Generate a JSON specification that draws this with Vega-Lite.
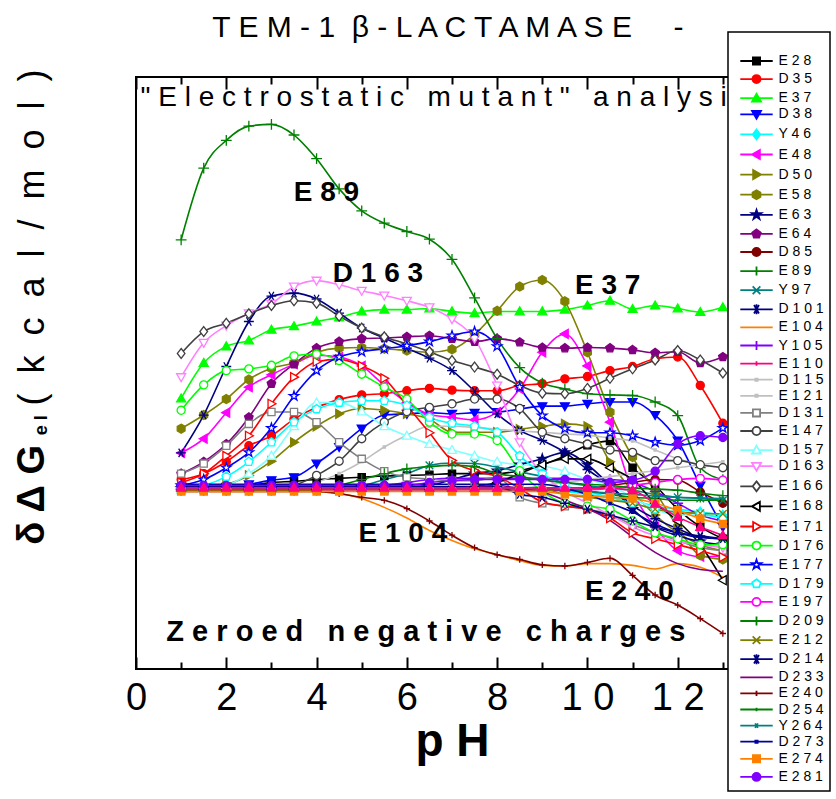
{
"$schema": "https://vega.github.io/schema/vega-lite/v6.json",
"width": 632, "height": 592,
"autosize": {"type": "none"},
"padding": {"left": 136, "top": 77, "right": 68, "bottom": 130},
"background": "white",
"data": {"values": [
{"m":"E28","x":1,"y":0.05},{"m":"E28","x":1.5,"y":0.06},{"m":"E28","x":2,"y":0.08},{"m":"E28","x":2.5,"y":0.1},{"m":"E28","x":3,"y":0.15},{"m":"E28","x":3.5,"y":0.17},{"m":"E28","x":4,"y":0.2},{"m":"E28","x":4.5,"y":0.22},{"m":"E28","x":5,"y":0.24},{"m":"E28","x":5.5,"y":0.26},{"m":"E28","x":6,"y":0.27},{"m":"E28","x":6.5,"y":0.28},{"m":"E28","x":7,"y":0.3},{"m":"E28","x":7.5,"y":0.3},{"m":"E28","x":8,"y":0.3},{"m":"E28","x":8.5,"y":0.35},{"m":"E28","x":9,"y":0.45},{"m":"E28","x":9.5,"y":0.6},{"m":"E28","x":10,"y":0.78},{"m":"E28","x":10.5,"y":0.85},{"m":"E28","x":11,"y":0.4},{"m":"E28","x":11.5,"y":0.1},{"m":"E28","x":12,"y":-0.3},{"m":"E28","x":12.5,"y":-0.6},{"m":"E28","x":13,"y":-0.8},
{"m":"D35","x":1,"y":0.2},{"m":"D35","x":1.5,"y":0.3},{"m":"D35","x":2,"y":0.5},{"m":"D35","x":2.5,"y":0.77},{"m":"D35","x":3,"y":0.94},{"m":"D35","x":3.5,"y":1.22},{"m":"D35","x":4,"y":1.42},{"m":"D35","x":4.5,"y":1.55},{"m":"D35","x":5,"y":1.63},{"m":"D35","x":5.5,"y":1.65},{"m":"D35","x":6,"y":1.7},{"m":"D35","x":6.5,"y":1.74},{"m":"D35","x":7,"y":1.71},{"m":"D35","x":7.5,"y":1.7},{"m":"D35","x":8,"y":1.7},{"m":"D35","x":8.5,"y":1.79},{"m":"D35","x":9,"y":1.82},{"m":"D35","x":9.5,"y":1.9},{"m":"D35","x":10,"y":1.94},{"m":"D35","x":10.5,"y":2.04},{"m":"D35","x":11,"y":2.11},{"m":"D35","x":11.5,"y":2.24},{"m":"D35","x":12,"y":2.27},{"m":"D35","x":12.5,"y":1.79},{"m":"D35","x":13,"y":1.15},
{"m":"E37","x":1,"y":1.57},{"m":"E37","x":1.5,"y":2.17},{"m":"E37","x":2,"y":2.45},{"m":"E37","x":2.5,"y":2.55},{"m":"E37","x":3,"y":2.73},{"m":"E37","x":3.5,"y":2.79},{"m":"E37","x":4,"y":2.87},{"m":"E37","x":4.5,"y":2.94},{"m":"E37","x":5,"y":3.04},{"m":"E37","x":5.5,"y":3.07},{"m":"E37","x":6,"y":3.07},{"m":"E37","x":6.5,"y":3.09},{"m":"E37","x":7,"y":3.04},{"m":"E37","x":7.5,"y":3.01},{"m":"E37","x":8,"y":3.04},{"m":"E37","x":8.5,"y":3.04},{"m":"E37","x":9,"y":3.04},{"m":"E37","x":9.5,"y":3.07},{"m":"E37","x":10,"y":3.14},{"m":"E37","x":10.5,"y":3.22},{"m":"E37","x":11,"y":3.08},{"m":"E37","x":11.5,"y":3.14},{"m":"E37","x":12,"y":3.09},{"m":"E37","x":12.5,"y":3.03},{"m":"E37","x":13,"y":3.11},
{"m":"D38","x":1,"y":0.05},{"m":"D38","x":1.5,"y":0.06},{"m":"D38","x":2,"y":0.08},{"m":"D38","x":2.5,"y":0.12},{"m":"D38","x":3,"y":0.19},{"m":"D38","x":3.5,"y":0.24},{"m":"D38","x":4,"y":0.47},{"m":"D38","x":4.5,"y":0.75},{"m":"D38","x":5,"y":1.06},{"m":"D38","x":5.5,"y":1.29},{"m":"D38","x":6,"y":1.31},{"m":"D38","x":6.5,"y":1.33},{"m":"D38","x":7,"y":1.31},{"m":"D38","x":7.5,"y":1.33},{"m":"D38","x":8,"y":1.34},{"m":"D38","x":8.5,"y":1.39},{"m":"D38","x":9,"y":1.44},{"m":"D38","x":9.5,"y":1.44},{"m":"D38","x":10,"y":1.48},{"m":"D38","x":10.5,"y":1.51},{"m":"D38","x":11,"y":1.51},{"m":"D38","x":11.5,"y":1.29},{"m":"D38","x":12,"y":0.86},{"m":"D38","x":12.5,"y":0.1},{"m":"D38","x":13,"y":-0.6},
{"m":"Y46","x":1,"y":0.02},{"m":"Y46","x":1.5,"y":0.02},{"m":"Y46","x":2,"y":0.02},{"m":"Y46","x":2.5,"y":0.02},{"m":"Y46","x":3,"y":0.03},{"m":"Y46","x":3.5,"y":0.03},{"m":"Y46","x":4,"y":0.03},{"m":"Y46","x":4.5,"y":0.03},{"m":"Y46","x":5,"y":0.03},{"m":"Y46","x":5.5,"y":0.03},{"m":"Y46","x":6,"y":0.03},{"m":"Y46","x":6.5,"y":0.03},{"m":"Y46","x":7,"y":0.03},{"m":"Y46","x":7.5,"y":0.03},{"m":"Y46","x":8,"y":0.03},{"m":"Y46","x":8.5,"y":0.03},{"m":"Y46","x":9,"y":0.02},{"m":"Y46","x":9.5,"y":0},{"m":"Y46","x":10,"y":-0.05},{"m":"Y46","x":10.5,"y":-0.1},{"m":"Y46","x":11,"y":-0.15},{"m":"Y46","x":11.5,"y":-0.25},{"m":"Y46","x":12,"y":-0.3},{"m":"Y46","x":12.5,"y":-0.35},{"m":"Y46","x":13,"y":-0.4},
{"m":"E48","x":1,"y":0.65},{"m":"E48","x":1.5,"y":0.89},{"m":"E48","x":2,"y":1.33},{"m":"E48","x":2.5,"y":1.76},{"m":"E48","x":3,"y":1.97},{"m":"E48","x":3.5,"y":2.15},{"m":"E48","x":4,"y":2.3},{"m":"E48","x":4.5,"y":2.27},{"m":"E48","x":5,"y":2.12},{"m":"E48","x":5.5,"y":1.79},{"m":"E48","x":6,"y":1.5},{"m":"E48","x":6.5,"y":1.3},{"m":"E48","x":7,"y":1.25},{"m":"E48","x":7.5,"y":1.21},{"m":"E48","x":8,"y":1.34},{"m":"E48","x":8.5,"y":1.73},{"m":"E48","x":9,"y":2.35},{"m":"E48","x":9.5,"y":2.66},{"m":"E48","x":10,"y":2.12},{"m":"E48","x":10.5,"y":1.17},{"m":"E48","x":11,"y":0},{"m":"E48","x":11.5,"y":-0.6},{"m":"E48","x":12,"y":-1},{"m":"E48","x":12.5,"y":-1.1},{"m":"E48","x":13,"y":-1.1},
{"m":"D50","x":1,"y":0.05},{"m":"D50","x":1.5,"y":0.08},{"m":"D50","x":2,"y":0.12},{"m":"D50","x":2.5,"y":0.27},{"m":"D50","x":3,"y":0.51},{"m":"D50","x":3.5,"y":0.83},{"m":"D50","x":4,"y":1.1},{"m":"D50","x":4.5,"y":1.31},{"m":"D50","x":5,"y":1.4},{"m":"D50","x":5.5,"y":1.37},{"m":"D50","x":6,"y":1.31},{"m":"D50","x":6.5,"y":1.22},{"m":"D50","x":7,"y":1},{"m":"D50","x":7.5,"y":1},{"m":"D50","x":8,"y":1},{"m":"D50","x":8.5,"y":1.05},{"m":"D50","x":9,"y":1.1},{"m":"D50","x":9.5,"y":1.14},{"m":"D50","x":10,"y":1.1},{"m":"D50","x":10.5,"y":0.5},{"m":"D50","x":11,"y":0},{"m":"D50","x":11.5,"y":-0.4},{"m":"D50","x":12,"y":-0.7},{"m":"D50","x":12.5,"y":-0.9},{"m":"D50","x":13,"y":-1},
{"m":"E58","x":1,"y":1.06},{"m":"E58","x":1.5,"y":1.29},{"m":"E58","x":2,"y":1.56},{"m":"E58","x":2.5,"y":1.89},{"m":"E58","x":3,"y":2.08},{"m":"E58","x":3.5,"y":2.17},{"m":"E58","x":4,"y":2.35},{"m":"E58","x":4.5,"y":2.42},{"m":"E58","x":5,"y":2.43},{"m":"E58","x":5.5,"y":2.41},{"m":"E58","x":6,"y":2.38},{"m":"E58","x":6.5,"y":2.35},{"m":"E58","x":7,"y":2.4},{"m":"E58","x":7.5,"y":2.65},{"m":"E58","x":8,"y":3.05},{"m":"E58","x":8.5,"y":3.46},{"m":"E58","x":9,"y":3.57},{"m":"E58","x":9.5,"y":3.21},{"m":"E58","x":10,"y":2.35},{"m":"E58","x":10.5,"y":1.34},{"m":"E58","x":11,"y":0.58},{"m":"E58","x":11.5,"y":0},{"m":"E58","x":12,"y":-0.6},{"m":"E58","x":12.5,"y":-1.08},{"m":"E58","x":13,"y":-1.15},
{"m":"E63","x":1,"y":0.05},{"m":"E63","x":1.5,"y":0.05},{"m":"E63","x":2,"y":0.05},{"m":"E63","x":2.5,"y":0.05},{"m":"E63","x":3,"y":0.05},{"m":"E63","x":3.5,"y":0.05},{"m":"E63","x":4,"y":0.06},{"m":"E63","x":4.5,"y":0.06},{"m":"E63","x":5,"y":0.07},{"m":"E63","x":5.5,"y":0.07},{"m":"E63","x":6,"y":0.08},{"m":"E63","x":6.5,"y":0.1},{"m":"E63","x":7,"y":0.2},{"m":"E63","x":7.5,"y":0.3},{"m":"E63","x":8,"y":0.35},{"m":"E63","x":8.5,"y":0.45},{"m":"E63","x":9,"y":0.55},{"m":"E63","x":9.5,"y":0.66},{"m":"E63","x":10,"y":0.45},{"m":"E63","x":10.5,"y":0.1},{"m":"E63","x":11,"y":-0.3},{"m":"E63","x":11.5,"y":-0.6},{"m":"E63","x":12,"y":-0.75},{"m":"E63","x":12.5,"y":-0.85},{"m":"E63","x":13,"y":-0.9},
{"m":"E64","x":1,"y":0.3},{"m":"E64","x":1.5,"y":0.5},{"m":"E64","x":2,"y":0.8},{"m":"E64","x":2.5,"y":1.25},{"m":"E64","x":3,"y":1.82},{"m":"E64","x":3.5,"y":2.15},{"m":"E64","x":4,"y":2.42},{"m":"E64","x":4.5,"y":2.53},{"m":"E64","x":5,"y":2.58},{"m":"E64","x":5.5,"y":2.59},{"m":"E64","x":6,"y":2.61},{"m":"E64","x":6.5,"y":2.63},{"m":"E64","x":7,"y":2.58},{"m":"E64","x":7.5,"y":2.53},{"m":"E64","x":8,"y":2.58},{"m":"E64","x":8.5,"y":2.52},{"m":"E64","x":9,"y":2.43},{"m":"E64","x":9.5,"y":2.42},{"m":"E64","x":10,"y":2.43},{"m":"E64","x":10.5,"y":2.42},{"m":"E64","x":11,"y":2.39},{"m":"E64","x":11.5,"y":2.34},{"m":"E64","x":12,"y":2.36},{"m":"E64","x":12.5,"y":2.17},{"m":"E64","x":13,"y":2.27},
{"m":"D85","x":1,"y":0.02},{"m":"D85","x":1.5,"y":0.02},{"m":"D85","x":2,"y":0.02},{"m":"D85","x":2.5,"y":0.02},{"m":"D85","x":3,"y":0.02},{"m":"D85","x":3.5,"y":0.02},{"m":"D85","x":4,"y":0.02},{"m":"D85","x":4.5,"y":0.02},{"m":"D85","x":5,"y":0.02},{"m":"D85","x":5.5,"y":0.02},{"m":"D85","x":6,"y":0.02},{"m":"D85","x":6.5,"y":0.02},{"m":"D85","x":7,"y":0.02},{"m":"D85","x":7.5,"y":0.02},{"m":"D85","x":8,"y":0.02},{"m":"D85","x":8.5,"y":0.02},{"m":"D85","x":9,"y":0.02},{"m":"D85","x":9.5,"y":0.02},{"m":"D85","x":10,"y":0.05},{"m":"D85","x":10.5,"y":0.1},{"m":"D85","x":11,"y":0.15},{"m":"D85","x":11.5,"y":0.2},{"m":"D85","x":12,"y":0.19},{"m":"D85","x":12.5,"y":-0.01},{"m":"D85","x":13,"y":-0.2},
{"m":"E89","x":1,"y":4.25},{"m":"E89","x":1.5,"y":5.46},{"m":"E89","x":2,"y":5.93},{"m":"E89","x":2.5,"y":6.17},{"m":"E89","x":3,"y":6.2},{"m":"E89","x":3.5,"y":6.02},{"m":"E89","x":4,"y":5.62},{"m":"E89","x":4.5,"y":5.11},{"m":"E89","x":5,"y":4.74},{"m":"E89","x":5.5,"y":4.53},{"m":"E89","x":6,"y":4.39},{"m":"E89","x":6.5,"y":4.26},{"m":"E89","x":7,"y":3.92},{"m":"E89","x":7.5,"y":3.27},{"m":"E89","x":8,"y":2.58},{"m":"E89","x":8.5,"y":2.09},{"m":"E89","x":9,"y":1.83},{"m":"E89","x":9.5,"y":1.73},{"m":"E89","x":10,"y":1.65},{"m":"E89","x":10.5,"y":1.63},{"m":"E89","x":11,"y":1.62},{"m":"E89","x":11.5,"y":1.51},{"m":"E89","x":12,"y":1.28},{"m":"E89","x":12.5,"y":0.4},{"m":"E89","x":13,"y":0.2},
{"m":"Y97","x":1,"y":0.03},{"m":"Y97","x":1.5,"y":0.03},{"m":"Y97","x":2,"y":0.03},{"m":"Y97","x":2.5,"y":0.03},{"m":"Y97","x":3,"y":0.04},{"m":"Y97","x":3.5,"y":0.05},{"m":"Y97","x":4,"y":0.06},{"m":"Y97","x":4.5,"y":0.08},{"m":"Y97","x":5,"y":0.1},{"m":"Y97","x":5.5,"y":0.2},{"m":"Y97","x":6,"y":0.3},{"m":"Y97","x":6.5,"y":0.44},{"m":"Y97","x":7,"y":0.48},{"m":"Y97","x":7.5,"y":0.47},{"m":"Y97","x":8,"y":0.41},{"m":"Y97","x":8.5,"y":0.33},{"m":"Y97","x":9,"y":0.25},{"m":"Y97","x":9.5,"y":0.15},{"m":"Y97","x":10,"y":0.1},{"m":"Y97","x":10.5,"y":0.05},{"m":"Y97","x":11,"y":0.02},{"m":"Y97","x":11.5,"y":-0.05},{"m":"Y97","x":12,"y":-0.1},{"m":"Y97","x":12.5,"y":-0.12},{"m":"Y97","x":13,"y":-0.15},
{"m":"D101","x":1,"y":0.65},{"m":"D101","x":1.5,"y":1.29},{"m":"D101","x":2,"y":2.11},{"m":"D101","x":2.5,"y":2.87},{"m":"D101","x":3,"y":3.3},{"m":"D101","x":3.5,"y":3.35},{"m":"D101","x":4,"y":3.25},{"m":"D101","x":4.5,"y":3.01},{"m":"D101","x":5,"y":2.76},{"m":"D101","x":5.5,"y":2.59},{"m":"D101","x":6,"y":2.42},{"m":"D101","x":6.5,"y":2.25},{"m":"D101","x":7,"y":2.04},{"m":"D101","x":7.5,"y":1.69},{"m":"D101","x":8,"y":1.31},{"m":"D101","x":8.5,"y":1.03},{"m":"D101","x":9,"y":0.86},{"m":"D101","x":9.5,"y":0.66},{"m":"D101","x":10,"y":0.37},{"m":"D101","x":10.5,"y":0.1},{"m":"D101","x":11,"y":-0.24},{"m":"D101","x":11.5,"y":-0.46},{"m":"D101","x":12,"y":-0.63},{"m":"D101","x":12.5,"y":-0.77},{"m":"D101","x":13,"y":-0.8},
{"m":"E104","x":1,"y":0},{"m":"E104","x":1.5,"y":0},{"m":"E104","x":2,"y":0},{"m":"E104","x":2.5,"y":0},{"m":"E104","x":3,"y":0},{"m":"E104","x":3.5,"y":0},{"m":"E104","x":4,"y":0},{"m":"E104","x":4.5,"y":-0.03},{"m":"E104","x":5,"y":-0.12},{"m":"E104","x":5.5,"y":-0.27},{"m":"E104","x":6,"y":-0.45},{"m":"E104","x":6.5,"y":-0.66},{"m":"E104","x":7,"y":-0.83},{"m":"E104","x":7.5,"y":-0.97},{"m":"E104","x":8,"y":-1.07},{"m":"E104","x":8.5,"y":-1.17},{"m":"E104","x":9,"y":-1.25},{"m":"E104","x":9.5,"y":-1.26},{"m":"E104","x":10,"y":-1.22},{"m":"E104","x":10.5,"y":-1.22},{"m":"E104","x":11,"y":-1.25},{"m":"E104","x":11.5,"y":-1.31},{"m":"E104","x":12,"y":-1.22},{"m":"E104","x":12.5,"y":-1.28},{"m":"E104","x":13,"y":-1.45},
{"m":"Y105","x":1,"y":0.05},{"m":"Y105","x":1.5,"y":0.05},{"m":"Y105","x":2,"y":0.05},{"m":"Y105","x":2.5,"y":0.05},{"m":"Y105","x":3,"y":0.05},{"m":"Y105","x":3.5,"y":0.05},{"m":"Y105","x":4,"y":0.05},{"m":"Y105","x":4.5,"y":0.05},{"m":"Y105","x":5,"y":0.05},{"m":"Y105","x":5.5,"y":0.1},{"m":"Y105","x":6,"y":0.15},{"m":"Y105","x":6.5,"y":0.2},{"m":"Y105","x":7,"y":0.22},{"m":"Y105","x":7.5,"y":0.22},{"m":"Y105","x":8,"y":0.22},{"m":"Y105","x":8.5,"y":0.22},{"m":"Y105","x":9,"y":0.22},{"m":"Y105","x":9.5,"y":0.22},{"m":"Y105","x":10,"y":0.2},{"m":"Y105","x":10.5,"y":0.2},{"m":"Y105","x":11,"y":0.15},{"m":"Y105","x":11.5,"y":0},{"m":"Y105","x":12,"y":-0.2},{"m":"Y105","x":12.5,"y":-0.4},{"m":"Y105","x":13,"y":-0.5},
{"m":"D115","x":1,"y":0.02},{"m":"D115","x":1.5,"y":0.02},{"m":"D115","x":2,"y":0.02},{"m":"D115","x":2.5,"y":0.02},{"m":"D115","x":3,"y":0.02},{"m":"D115","x":3.5,"y":0.05},{"m":"D115","x":4,"y":0.15},{"m":"D115","x":4.5,"y":0.3},{"m":"D115","x":5,"y":0.5},{"m":"D115","x":5.5,"y":0.75},{"m":"D115","x":6,"y":0.95},{"m":"D115","x":6.5,"y":1.1},{"m":"D115","x":7,"y":1.1},{"m":"D115","x":7.5,"y":1.08},{"m":"D115","x":8,"y":1.05},{"m":"D115","x":8.5,"y":1.02},{"m":"D115","x":9,"y":1},{"m":"D115","x":9.5,"y":0.97},{"m":"D115","x":10,"y":0.95},{"m":"D115","x":10.5,"y":0.9},{"m":"D115","x":11,"y":0.85},{"m":"D115","x":11.5,"y":0.7},{"m":"D115","x":12,"y":0.55},{"m":"D115","x":12.5,"y":0.45},{"m":"D115","x":13,"y":0.4},
{"m":"E121","x":1,"y":0.02},{"m":"E121","x":1.5,"y":0.02},{"m":"E121","x":2,"y":0.02},{"m":"E121","x":2.5,"y":0.02},{"m":"E121","x":3,"y":0.02},{"m":"E121","x":3.5,"y":0.02},{"m":"E121","x":4,"y":0.02},{"m":"E121","x":4.5,"y":0.02},{"m":"E121","x":5,"y":0.02},{"m":"E121","x":5.5,"y":0.02},{"m":"E121","x":6,"y":0.02},{"m":"E121","x":6.5,"y":0.02},{"m":"E121","x":7,"y":0.02},{"m":"E121","x":7.5,"y":0.02},{"m":"E121","x":8,"y":0.02},{"m":"E121","x":8.5,"y":0.05},{"m":"E121","x":9,"y":0.1},{"m":"E121","x":9.5,"y":0.15},{"m":"E121","x":10,"y":0.2},{"m":"E121","x":10.5,"y":0.25},{"m":"E121","x":11,"y":0.3},{"m":"E121","x":11.5,"y":0.35},{"m":"E121","x":12,"y":0.4},{"m":"E121","x":12.5,"y":0.45},{"m":"E121","x":13,"y":0.5},
{"m":"D131","x":1,"y":0.3},{"m":"D131","x":1.5,"y":0.47},{"m":"D131","x":2,"y":0.77},{"m":"D131","x":2.5,"y":1.14},{"m":"D131","x":3,"y":1.34},{"m":"D131","x":3.5,"y":1.34},{"m":"D131","x":4,"y":1.17},{"m":"D131","x":4.5,"y":0.83},{"m":"D131","x":5,"y":0.55},{"m":"D131","x":5.5,"y":0.34},{"m":"D131","x":6,"y":0.24},{"m":"D131","x":6.5,"y":0.21},{"m":"D131","x":7,"y":0.18},{"m":"D131","x":7.5,"y":0.18},{"m":"D131","x":8,"y":0.24},{"m":"D131","x":8.5,"y":-0.1},{"m":"D131","x":9,"y":-0.2},{"m":"D131","x":9.5,"y":-0.25},{"m":"D131","x":10,"y":-0.3},{"m":"D131","x":10.5,"y":-0.39},{"m":"D131","x":11,"y":-0.56},{"m":"D131","x":11.5,"y":-0.7},{"m":"D131","x":12,"y":-0.83},{"m":"D131","x":12.5,"y":-0.95},{"m":"D131","x":13,"y":-1},
{"m":"E147","x":1,"y":0.02},{"m":"E147","x":1.5,"y":0.02},{"m":"E147","x":2,"y":0.02},{"m":"E147","x":2.5,"y":0.02},{"m":"E147","x":3,"y":0.02},{"m":"E147","x":3.5,"y":0.1},{"m":"E147","x":4,"y":0.27},{"m":"E147","x":4.5,"y":0.51},{"m":"E147","x":5,"y":0.89},{"m":"E147","x":5.5,"y":1.17},{"m":"E147","x":6,"y":1.35},{"m":"E147","x":6.5,"y":1.42},{"m":"E147","x":7,"y":1.48},{"m":"E147","x":7.5,"y":1.56},{"m":"E147","x":8,"y":1.56},{"m":"E147","x":8.5,"y":1.4},{"m":"E147","x":9,"y":1},{"m":"E147","x":9.5,"y":0.89},{"m":"E147","x":10,"y":0.8},{"m":"E147","x":10.5,"y":0.7},{"m":"E147","x":11,"y":0.66},{"m":"E147","x":11.5,"y":0.52},{"m":"E147","x":12,"y":0.52},{"m":"E147","x":12.5,"y":0.45},{"m":"E147","x":13,"y":0.4},
{"m":"D157","x":1,"y":0.02},{"m":"D157","x":1.5,"y":0.05},{"m":"D157","x":2,"y":0.1},{"m":"D157","x":2.5,"y":0.3},{"m":"D157","x":3,"y":0.6},{"m":"D157","x":3.5,"y":1.1},{"m":"D157","x":4,"y":1.5},{"m":"D157","x":4.5,"y":1.5},{"m":"D157","x":5,"y":1.35},{"m":"D157","x":5.5,"y":1.1},{"m":"D157","x":6,"y":0.94},{"m":"D157","x":6.5,"y":0.8},{"m":"D157","x":7,"y":0.7},{"m":"D157","x":7.5,"y":0.6},{"m":"D157","x":8,"y":0.5},{"m":"D157","x":8.5,"y":0.45},{"m":"D157","x":9,"y":0.43},{"m":"D157","x":9.5,"y":0.34},{"m":"D157","x":10,"y":0.2},{"m":"D157","x":10.5,"y":0.1},{"m":"D157","x":11,"y":-0.1},{"m":"D157","x":11.5,"y":-0.3},{"m":"D157","x":12,"y":-0.4},{"m":"D157","x":12.5,"y":-0.4},{"m":"D157","x":13,"y":-0.45},
{"m":"D163","x":1,"y":1.93},{"m":"D163","x":1.5,"y":2.51},{"m":"D163","x":2,"y":2.8},{"m":"D163","x":2.5,"y":3.01},{"m":"D163","x":3,"y":3.17},{"m":"D163","x":3.5,"y":3.46},{"m":"D163","x":4,"y":3.56},{"m":"D163","x":4.5,"y":3.49},{"m":"D163","x":5,"y":3.39},{"m":"D163","x":5.5,"y":3.31},{"m":"D163","x":6,"y":3.22},{"m":"D163","x":6.5,"y":3.11},{"m":"D163","x":7,"y":2.91},{"m":"D163","x":7.5,"y":2.58},{"m":"D163","x":8,"y":1.79},{"m":"D163","x":8.5,"y":0.83},{"m":"D163","x":9,"y":0.3},{"m":"D163","x":9.5,"y":0},{"m":"D163","x":10,"y":-0.2},{"m":"D163","x":10.5,"y":-0.4},{"m":"D163","x":11,"y":-0.6},{"m":"D163","x":11.5,"y":-0.75},{"m":"D163","x":12,"y":-0.85},{"m":"D163","x":12.5,"y":-0.9},{"m":"D163","x":13,"y":-0.95},
{"m":"E166","x":1,"y":2.33},{"m":"E166","x":1.5,"y":2.7},{"m":"E166","x":2,"y":2.84},{"m":"E166","x":2.5,"y":3},{"m":"E166","x":3,"y":3.14},{"m":"E166","x":3.5,"y":3.22},{"m":"E166","x":4,"y":3.18},{"m":"E166","x":4.5,"y":2.96},{"m":"E166","x":5,"y":2.76},{"m":"E166","x":5.5,"y":2.61},{"m":"E166","x":6,"y":2.49},{"m":"E166","x":6.5,"y":2.36},{"m":"E166","x":7,"y":2.21},{"m":"E166","x":7.5,"y":2.1},{"m":"E166","x":8,"y":1.98},{"m":"E166","x":8.5,"y":1.79},{"m":"E166","x":9,"y":1.66},{"m":"E166","x":9.5,"y":1.65},{"m":"E166","x":10,"y":1.74},{"m":"E166","x":10.5,"y":1.91},{"m":"E166","x":11,"y":2.07},{"m":"E166","x":11.5,"y":2.22},{"m":"E166","x":12,"y":2.38},{"m":"E166","x":12.5,"y":2.22},{"m":"E166","x":13,"y":2},
{"m":"E168","x":1,"y":0.03},{"m":"E168","x":1.5,"y":0.03},{"m":"E168","x":2,"y":0.03},{"m":"E168","x":2.5,"y":0.03},{"m":"E168","x":3,"y":0.03},{"m":"E168","x":3.5,"y":0.03},{"m":"E168","x":4,"y":0.03},{"m":"E168","x":4.5,"y":0.03},{"m":"E168","x":5,"y":0.03},{"m":"E168","x":5.5,"y":0.03},{"m":"E168","x":6,"y":0.03},{"m":"E168","x":6.5,"y":0.03},{"m":"E168","x":7,"y":0.03},{"m":"E168","x":7.5,"y":0.08},{"m":"E168","x":8,"y":0.15},{"m":"E168","x":8.5,"y":0.3},{"m":"E168","x":9,"y":0.45},{"m":"E168","x":9.5,"y":0.55},{"m":"E168","x":10,"y":0.55},{"m":"E168","x":10.5,"y":0.4},{"m":"E168","x":11,"y":0.2},{"m":"E168","x":11.5,"y":-0.2},{"m":"E168","x":12,"y":-0.5},{"m":"E168","x":12.5,"y":-0.9},{"m":"E168","x":13,"y":-1.5},
{"m":"E171","x":1,"y":0.15},{"m":"E171","x":1.5,"y":0.3},{"m":"E171","x":2,"y":0.6},{"m":"E171","x":2.5,"y":0.94},{"m":"E171","x":3,"y":1.48},{"m":"E171","x":3.5,"y":1.93},{"m":"E171","x":4,"y":2.19},{"m":"E171","x":4.5,"y":2.23},{"m":"E171","x":5,"y":2.12},{"m":"E171","x":5.5,"y":1.91},{"m":"E171","x":6,"y":1.45},{"m":"E171","x":6.5,"y":0.99},{"m":"E171","x":7,"y":0.52},{"m":"E171","x":7.5,"y":0.35},{"m":"E171","x":8,"y":0.25},{"m":"E171","x":8.5,"y":0.05},{"m":"E171","x":9,"y":-0.18},{"m":"E171","x":9.5,"y":-0.25},{"m":"E171","x":10,"y":-0.3},{"m":"E171","x":10.5,"y":-0.45},{"m":"E171","x":11,"y":-0.7},{"m":"E171","x":11.5,"y":-0.8},{"m":"E171","x":12,"y":-0.9},{"m":"E171","x":12.5,"y":-1},{"m":"E171","x":13,"y":-1.11},
{"m":"D176","x":1,"y":1.37},{"m":"D176","x":1.5,"y":1.8},{"m":"D176","x":2,"y":2.04},{"m":"D176","x":2.5,"y":2.07},{"m":"D176","x":3,"y":2.13},{"m":"D176","x":3.5,"y":2.29},{"m":"D176","x":4,"y":2.32},{"m":"D176","x":4.5,"y":2.21},{"m":"D176","x":5,"y":1.98},{"m":"D176","x":5.5,"y":1.76},{"m":"D176","x":6,"y":1.56},{"m":"D176","x":6.5,"y":1.17},{"m":"D176","x":7,"y":0.97},{"m":"D176","x":7.5,"y":0.97},{"m":"D176","x":8,"y":0.86},{"m":"D176","x":8.5,"y":0.35},{"m":"D176","x":9,"y":0},{"m":"D176","x":9.5,"y":-0.2},{"m":"D176","x":10,"y":-0.25},{"m":"D176","x":10.5,"y":-0.3},{"m":"D176","x":11,"y":-0.5},{"m":"D176","x":11.5,"y":-0.7},{"m":"D176","x":12,"y":-0.8},{"m":"D176","x":12.5,"y":-0.9},{"m":"D176","x":13,"y":-0.9},
{"m":"E177","x":1,"y":0.1},{"m":"E177","x":1.5,"y":0.2},{"m":"E177","x":2,"y":0.4},{"m":"E177","x":2.5,"y":0.66},{"m":"E177","x":3,"y":1.07},{"m":"E177","x":3.5,"y":1.61},{"m":"E177","x":4,"y":2.04},{"m":"E177","x":4.5,"y":2.27},{"m":"E177","x":5,"y":2.36},{"m":"E177","x":5.5,"y":2.41},{"m":"E177","x":6,"y":2.46},{"m":"E177","x":6.5,"y":2.53},{"m":"E177","x":7,"y":2.63},{"m":"E177","x":7.5,"y":2.7},{"m":"E177","x":8,"y":2.45},{"m":"E177","x":8.5,"y":1.76},{"m":"E177","x":9,"y":1.28},{"m":"E177","x":9.5,"y":1.06},{"m":"E177","x":10,"y":0.99},{"m":"E177","x":10.5,"y":0.99},{"m":"E177","x":11,"y":0.94},{"m":"E177","x":11.5,"y":0.83},{"m":"E177","x":12,"y":0.78},{"m":"E177","x":12.5,"y":0.86},{"m":"E177","x":13,"y":1.07},
{"m":"D179","x":1,"y":0.05},{"m":"D179","x":1.5,"y":0.1},{"m":"D179","x":2,"y":0.25},{"m":"D179","x":2.5,"y":0.5},{"m":"D179","x":3,"y":0.83},{"m":"D179","x":3.5,"y":1.17},{"m":"D179","x":4,"y":1.39},{"m":"D179","x":4.5,"y":1.5},{"m":"D179","x":5,"y":1.53},{"m":"D179","x":5.5,"y":1.53},{"m":"D179","x":6,"y":1.45},{"m":"D179","x":6.5,"y":1.25},{"m":"D179","x":7,"y":1.15},{"m":"D179","x":7.5,"y":1.1},{"m":"D179","x":8,"y":1},{"m":"D179","x":8.5,"y":0.6},{"m":"D179","x":9,"y":0.3},{"m":"D179","x":9.5,"y":0.1},{"m":"D179","x":10,"y":0},{"m":"D179","x":10.5,"y":-0.1},{"m":"D179","x":11,"y":-0.2},{"m":"D179","x":11.5,"y":-0.3},{"m":"D179","x":12,"y":-0.35},{"m":"D179","x":12.5,"y":-0.38},{"m":"D179","x":13,"y":-0.45},
{"m":"E197","x":1,"y":0.03},{"m":"E197","x":1.5,"y":0.03},{"m":"E197","x":2,"y":0.03},{"m":"E197","x":2.5,"y":0.03},{"m":"E197","x":3,"y":0.03},{"m":"E197","x":3.5,"y":0.03},{"m":"E197","x":4,"y":0.03},{"m":"E197","x":4.5,"y":0.03},{"m":"E197","x":5,"y":0.03},{"m":"E197","x":5.5,"y":0.03},{"m":"E197","x":6,"y":0.03},{"m":"E197","x":6.5,"y":0.03},{"m":"E197","x":7,"y":0.03},{"m":"E197","x":7.5,"y":0.03},{"m":"E197","x":8,"y":0.03},{"m":"E197","x":8.5,"y":0.03},{"m":"E197","x":9,"y":0.03},{"m":"E197","x":9.5,"y":0.03},{"m":"E197","x":10,"y":0.03},{"m":"E197","x":10.5,"y":0.05},{"m":"E197","x":11,"y":0.1},{"m":"E197","x":11.5,"y":0.15},{"m":"E197","x":12,"y":0.2},{"m":"E197","x":12.5,"y":0.22},{"m":"E197","x":13,"y":0.19},
{"m":"D209","x":1,"y":0.02},{"m":"D209","x":1.5,"y":0.02},{"m":"D209","x":2,"y":0.02},{"m":"D209","x":2.5,"y":0.02},{"m":"D209","x":3,"y":0.02},{"m":"D209","x":3.5,"y":0.02},{"m":"D209","x":4,"y":0.02},{"m":"D209","x":4.5,"y":0.1},{"m":"D209","x":5,"y":0.2},{"m":"D209","x":5.5,"y":0.3},{"m":"D209","x":6,"y":0.38},{"m":"D209","x":6.5,"y":0.42},{"m":"D209","x":7,"y":0.44},{"m":"D209","x":7.5,"y":0.42},{"m":"D209","x":8,"y":0.3},{"m":"D209","x":8.5,"y":0.25},{"m":"D209","x":9,"y":0.19},{"m":"D209","x":9.5,"y":0.15},{"m":"D209","x":10,"y":0.12},{"m":"D209","x":10.5,"y":0.1},{"m":"D209","x":11,"y":0.06},{"m":"D209","x":11.5,"y":0.04},{"m":"D209","x":12,"y":0.02},{"m":"D209","x":12.5,"y":-0.03},{"m":"D209","x":13,"y":-0.07},
{"m":"E212","x":1,"y":0.04},{"m":"E212","x":1.5,"y":0.04},{"m":"E212","x":2,"y":0.04},{"m":"E212","x":2.5,"y":0.04},{"m":"E212","x":3,"y":0.04},{"m":"E212","x":3.5,"y":0.04},{"m":"E212","x":4,"y":0.04},{"m":"E212","x":4.5,"y":0.04},{"m":"E212","x":5,"y":0.04},{"m":"E212","x":5.5,"y":0.04},{"m":"E212","x":6,"y":0.04},{"m":"E212","x":6.5,"y":0.04},{"m":"E212","x":7,"y":0.04},{"m":"E212","x":7.5,"y":0.04},{"m":"E212","x":8,"y":0.04},{"m":"E212","x":8.5,"y":0.04},{"m":"E212","x":9,"y":0.04},{"m":"E212","x":9.5,"y":-0.05},{"m":"E212","x":10,"y":-0.1},{"m":"E212","x":10.5,"y":-0.15},{"m":"E212","x":11,"y":-0.2},{"m":"E212","x":11.5,"y":-0.3},{"m":"E212","x":12,"y":-0.35},{"m":"E212","x":12.5,"y":-0.37},{"m":"E212","x":13,"y":-0.38},
{"m":"D214","x":1,"y":0.08},{"m":"D214","x":1.5,"y":0.08},{"m":"D214","x":2,"y":0.08},{"m":"D214","x":2.5,"y":0.08},{"m":"D214","x":3,"y":0.08},{"m":"D214","x":3.5,"y":0.08},{"m":"D214","x":4,"y":0.08},{"m":"D214","x":4.5,"y":0.08},{"m":"D214","x":5,"y":0.08},{"m":"D214","x":5.5,"y":0.08},{"m":"D214","x":6,"y":0.08},{"m":"D214","x":6.5,"y":0.08},{"m":"D214","x":7,"y":0.08},{"m":"D214","x":7.5,"y":0.08},{"m":"D214","x":8,"y":0.08},{"m":"D214","x":8.5,"y":-0.05},{"m":"D214","x":9,"y":-0.1},{"m":"D214","x":9.5,"y":-0.2},{"m":"D214","x":10,"y":-0.3},{"m":"D214","x":10.5,"y":-0.4},{"m":"D214","x":11,"y":-0.5},{"m":"D214","x":11.5,"y":-0.6},{"m":"D214","x":12,"y":-0.7},{"m":"D214","x":12.5,"y":-0.75},{"m":"D214","x":13,"y":-0.8},
{"m":"D233","x":1,"y":0.05},{"m":"D233","x":1.5,"y":0.05},{"m":"D233","x":2,"y":0.05},{"m":"D233","x":2.5,"y":0.05},{"m":"D233","x":3,"y":0.05},{"m":"D233","x":3.5,"y":0.05},{"m":"D233","x":4,"y":0.05},{"m":"D233","x":4.5,"y":0.05},{"m":"D233","x":5,"y":0.05},{"m":"D233","x":5.5,"y":0.05},{"m":"D233","x":6,"y":0.05},{"m":"D233","x":6.5,"y":0.05},{"m":"D233","x":7,"y":0.05},{"m":"D233","x":7.5,"y":0.08},{"m":"D233","x":8,"y":0.1},{"m":"D233","x":8.5,"y":0.05},{"m":"D233","x":9,"y":-0.01},{"m":"D233","x":9.5,"y":-0.15},{"m":"D233","x":10,"y":-0.29},{"m":"D233","x":10.5,"y":-0.49},{"m":"D233","x":11,"y":-0.77},{"m":"D233","x":11.5,"y":-1.03},{"m":"D233","x":12,"y":-1.22},{"m":"D233","x":12.5,"y":-1.32},{"m":"D233","x":13,"y":-1.35},
{"m":"E240","x":1,"y":0},{"m":"E240","x":1.5,"y":0},{"m":"E240","x":2,"y":0},{"m":"E240","x":2.5,"y":0},{"m":"E240","x":3,"y":0},{"m":"E240","x":3.5,"y":0},{"m":"E240","x":4,"y":0},{"m":"E240","x":4.5,"y":-0.04},{"m":"E240","x":5,"y":-0.1},{"m":"E240","x":5.5,"y":-0.15},{"m":"E240","x":6,"y":-0.29},{"m":"E240","x":6.5,"y":-0.5},{"m":"E240","x":7,"y":-0.74},{"m":"E240","x":7.5,"y":-0.95},{"m":"E240","x":8,"y":-1.07},{"m":"E240","x":8.5,"y":-1.15},{"m":"E240","x":9,"y":-1.24},{"m":"E240","x":9.5,"y":-1.26},{"m":"E240","x":10,"y":-1.2},{"m":"E240","x":10.5,"y":-1.13},{"m":"E240","x":11,"y":-1.42},{"m":"E240","x":11.5,"y":-1.75},{"m":"E240","x":12,"y":-1.92},{"m":"E240","x":12.5,"y":-2.15},{"m":"E240","x":13,"y":-2.4},
{"m":"D254","x":1,"y":0.05},{"m":"D254","x":1.5,"y":0.05},{"m":"D254","x":2,"y":0.05},{"m":"D254","x":2.5,"y":0.05},{"m":"D254","x":3,"y":0.05},{"m":"D254","x":3.5,"y":0.05},{"m":"D254","x":4,"y":0.05},{"m":"D254","x":4.5,"y":0.05},{"m":"D254","x":5,"y":0.05},{"m":"D254","x":5.5,"y":0.05},{"m":"D254","x":6,"y":0.05},{"m":"D254","x":6.5,"y":0.05},{"m":"D254","x":7,"y":0.05},{"m":"D254","x":7.5,"y":0.05},{"m":"D254","x":8,"y":0.05},{"m":"D254","x":8.5,"y":0.05},{"m":"D254","x":9,"y":0.05},{"m":"D254","x":9.5,"y":0.03},{"m":"D254","x":10,"y":0},{"m":"D254","x":10.5,"y":-0.05},{"m":"D254","x":11,"y":-0.1},{"m":"D254","x":11.5,"y":-0.12},{"m":"D254","x":12,"y":-0.15},{"m":"D254","x":12.5,"y":-0.15},{"m":"D254","x":13,"y":-0.15},
{"m":"Y264","x":1,"y":0.05},{"m":"Y264","x":1.5,"y":0.05},{"m":"Y264","x":2,"y":0.05},{"m":"Y264","x":2.5,"y":0.05},{"m":"Y264","x":3,"y":0.05},{"m":"Y264","x":3.5,"y":0.05},{"m":"Y264","x":4,"y":0.05},{"m":"Y264","x":4.5,"y":0.05},{"m":"Y264","x":5,"y":0.05},{"m":"Y264","x":5.5,"y":0.05},{"m":"Y264","x":6,"y":0.05},{"m":"Y264","x":6.5,"y":0.05},{"m":"Y264","x":7,"y":0.05},{"m":"Y264","x":7.5,"y":0.05},{"m":"Y264","x":8,"y":0.05},{"m":"Y264","x":8.5,"y":0.05},{"m":"Y264","x":9,"y":0.05},{"m":"Y264","x":9.5,"y":0.02},{"m":"Y264","x":10,"y":0},{"m":"Y264","x":10.5,"y":-0.03},{"m":"Y264","x":11,"y":-0.05},{"m":"Y264","x":11.5,"y":-0.08},{"m":"Y264","x":12,"y":-0.1},{"m":"Y264","x":12.5,"y":-0.11},{"m":"Y264","x":13,"y":-0.12},
{"m":"D273","x":1,"y":0.12},{"m":"D273","x":1.5,"y":0.12},{"m":"D273","x":2,"y":0.12},{"m":"D273","x":2.5,"y":0.12},{"m":"D273","x":3,"y":0.12},{"m":"D273","x":3.5,"y":0.12},{"m":"D273","x":4,"y":0.12},{"m":"D273","x":4.5,"y":0.12},{"m":"D273","x":5,"y":0.12},{"m":"D273","x":5.5,"y":0.12},{"m":"D273","x":6,"y":0.12},{"m":"D273","x":6.5,"y":0.12},{"m":"D273","x":7,"y":0.12},{"m":"D273","x":7.5,"y":0.12},{"m":"D273","x":8,"y":0.12},{"m":"D273","x":8.5,"y":0.12},{"m":"D273","x":9,"y":0.12},{"m":"D273","x":9.5,"y":0.05},{"m":"D273","x":10,"y":-0.05},{"m":"D273","x":10.5,"y":-0.2},{"m":"D273","x":11,"y":-0.35},{"m":"D273","x":11.5,"y":-0.55},{"m":"D273","x":12,"y":-0.7},{"m":"D273","x":12.5,"y":-0.78},{"m":"D273","x":13,"y":-0.8},
{"m":"E274","x":1,"y":0},{"m":"E274","x":1.5,"y":0},{"m":"E274","x":2,"y":0},{"m":"E274","x":2.5,"y":0},{"m":"E274","x":3,"y":0},{"m":"E274","x":3.5,"y":0},{"m":"E274","x":4,"y":0},{"m":"E274","x":4.5,"y":0},{"m":"E274","x":5,"y":0},{"m":"E274","x":5.5,"y":0},{"m":"E274","x":6,"y":0},{"m":"E274","x":6.5,"y":0},{"m":"E274","x":7,"y":0},{"m":"E274","x":7.5,"y":0},{"m":"E274","x":8,"y":0},{"m":"E274","x":8.5,"y":0},{"m":"E274","x":9,"y":0},{"m":"E274","x":9.5,"y":-0.05},{"m":"E274","x":10,"y":-0.08},{"m":"E274","x":10.5,"y":-0.1},{"m":"E274","x":11,"y":-0.12},{"m":"E274","x":11.5,"y":-0.2},{"m":"E274","x":12,"y":-0.32},{"m":"E274","x":12.5,"y":-0.46},{"m":"E274","x":13,"y":-0.55},
{"m":"E281","x":1,"y":0.1},{"m":"E281","x":1.5,"y":0.1},{"m":"E281","x":2,"y":0.1},{"m":"E281","x":2.5,"y":0.1},{"m":"E281","x":3,"y":0.1},{"m":"E281","x":3.5,"y":0.1},{"m":"E281","x":4,"y":0.1},{"m":"E281","x":4.5,"y":0.1},{"m":"E281","x":5,"y":0.1},{"m":"E281","x":5.5,"y":0.1},{"m":"E281","x":6,"y":0.1},{"m":"E281","x":6.5,"y":0.15},{"m":"E281","x":7,"y":0.18},{"m":"E281","x":7.5,"y":0.2},{"m":"E281","x":8,"y":0.2},{"m":"E281","x":8.5,"y":0.2},{"m":"E281","x":9,"y":0.2},{"m":"E281","x":9.5,"y":0.2},{"m":"E281","x":10,"y":0.2},{"m":"E281","x":10.5,"y":0.15},{"m":"E281","x":11,"y":0.19},{"m":"E281","x":11.5,"y":0.34},{"m":"E281","x":12,"y":0.8},{"m":"E281","x":12.5,"y":0.94},{"m":"E281","x":13,"y":0.91},
{"m":"E110","x":1,"y":0.06},{"m":"E110","x":1.5,"y":0.06},{"m":"E110","x":2,"y":0.06},{"m":"E110","x":2.5,"y":0.06},{"m":"E110","x":3,"y":0.06},{"m":"E110","x":3.5,"y":0.06},{"m":"E110","x":4,"y":0.06},{"m":"E110","x":4.5,"y":0.06},{"m":"E110","x":5,"y":0.06},{"m":"E110","x":5.5,"y":0.06},{"m":"E110","x":6,"y":0.06},{"m":"E110","x":6.5,"y":0.06},{"m":"E110","x":7,"y":0.06},{"m":"E110","x":7.5,"y":0.06},{"m":"E110","x":8,"y":0.06},{"m":"E110","x":8.5,"y":0.06},{"m":"E110","x":9,"y":0.06},{"m":"E110","x":9.5,"y":0.06},{"m":"E110","x":10,"y":0.06},{"m":"E110","x":10.5,"y":0.05},{"m":"E110","x":11,"y":0.02},{"m":"E110","x":11.5,"y":-0.21},{"m":"E110","x":12,"y":-0.43},{"m":"E110","x":12.5,"y":-0.6},{"m":"E110","x":13,"y":-0.74}
]},
"resolve": {"scale": {"stroke": "independent", "fill": "independent", "shape": "independent"}, "axis": {"x": "independent"}},
"layer": [
{
"mark": {"type": "line", "interpolate": "monotone", "strokeWidth": 1.6},
"encoding": {
"x": {"field": "x", "type": "quantitative", "scale": {"domain": [0, 14], "nice": false, "zero": false},
 "axis": {"orient": "bottom", "values": [0,2,4,6,8,10,12,14], "tickSize": -12, "tickWidth": 2, "tickColor": "black", "domain": false, "grid": false, "labelPadding": 22, "labelFontSize": 38, "labelFont": "Liberation Sans Narrow, Liberation Sans", "labelColor": "black", "labelFlush": false, "labelOverlap": false, "labelExpr": "join(split(datum.label, ''), ' ')", "title": "p H", "titleFont": "Liberation Sans", "titleFontSize": 46, "titleFontWeight": "bold", "titleColor": "black", "titlePadding": 2}},
"y": {"field": "y", "type": "quantitative", "scale": {"domain": [-3, 7], "nice": false, "zero": false},
 "axis": {"values": [-3,-2.5,-2,-1.5,-1,-0.5,0,0.5,1,1.5,2,2.5,3,3.5,4,4.5,5,5.5,6,6.5,7], "tickSize": -9, "tickWidth": 2, "tickColor": "black", "domain": false, "grid": false, "labelPadding": 35, "labelFontSize": 38, "labelFont": "Liberation Sans", "labelColor": "black", "labelFlush": false, "labelOverlap": false, "labelExpr": "datum.value % 1 != 0 ? '' : (datum.value < 0 ? '- ' + abs(datum.value) : datum.label)", "title": null}},
"stroke": {"field": "m", "type": "nominal", "legend": null, "scale": {"domain": ["E28","D35","E37","D38","Y46","E48","D50","E58","E63","E64","D85","E89","Y97","D101","E104","Y105","E110","D115","E121","D131","E147","D157","D163","E166","E168","E171","D176","E177","D179","E197","D209","E212","D214","D233","E240","D254","Y264","D273","E274","E281"], "range": ["#000000","#ff0000","#00ff00","#0000ff","#00ffff","#ff00ff","#808000","#808000","#000080","#800080","#800000","#008000","#008080","#000080","#ff8000","#8000ff","#ff0080","#c0c0c0","#c0c0c0","#808080","#404040","#80ffff","#ff80ff","#404040","#000000","#ff0000","#00ff00","#0000ff","#00ffff","#ff00ff","#008000","#808000","#000080","#800080","#800000","#008000","#008080","#0000a0","#ff8000","#8000ff"]}}
}
},
{
"mark": {"type": "point", "opacity": 1, "strokeWidth": 1.3, "size": 81},
"encoding": {
"x": {"field": "x", "type": "quantitative", "axis": {"orient": "bottom", "values": [1,3,5,7,9,11,13], "tickSize": -7, "tickWidth": 2, "tickColor": "black", "domain": false, "grid": false, "labels": false, "title": null}},
"y": {"field": "y", "type": "quantitative", "axis": null},
"stroke": {"field": "m", "type": "nominal", "legend": null, "scale": {"domain": ["E28","D35","E37","D38","Y46","E48","D50","E58","E63","E64","D85","E89","Y97","D101","E104","Y105","E110","D115","E121","D131","E147","D157","D163","E166","E168","E171","D176","E177","D179","E197","D209","E212","D214","D233","E240","D254","Y264","D273","E274","E281"], "range": ["#000000","#ff0000","#00ff00","#0000ff","#00ffff","#ff00ff","#808000","#808000","#000080","#800080","#800000","#008000","#008080","#000080","#ff8000","#8000ff","#ff0080","#c0c0c0","#c0c0c0","#808080","#404040","#80ffff","#ff80ff","#404040","#000000","#ff0000","#00ff00","#0000ff","#00ffff","#ff00ff","#008000","#808000","#000080","#800080","#800000","#008000","#008080","#0000a0","#ff8000","#8000ff"]}},
"fill": {"field": "m", "type": "nominal", "legend": null, "scale": {"domain": ["E28","D35","E37","D38","Y46","E48","D50","E58","E63","E64","D85","E89","Y97","D101","E104","Y105","E110","D115","E121","D131","E147","D157","D163","E166","E168","E171","D176","E177","D179","E197","D209","E212","D214","D233","E240","D254","Y264","D273","E274","E281"], "range": ["#000000","#ff0000","#00ff00","#0000ff","#00ffff","#ff00ff","#808000","#808000","#000080","#800080","#800000","#008000","#008080","#000080","#ff8000","#8000ff","#ff0080","#c0c0c0","#c0c0c0","#ffffff","#ffffff","#ffffff","#ffffff","#ffffff","#ffffff","#ffffff","#ffffff","#ffffff","#ffffff","#ffffff","#008000","#808000","#000080","#800080","#800000","#008000","#008080","#0000a0","#ff8000","#8000ff"]}},
"shape": {"field": "m", "type": "nominal", "legend": null, "scale": {"domain": ["E28","D35","E37","D38","Y46","E48","D50","E58","E63","E64","D85","E89","Y97","D101","E104","Y105","E110","D115","E121","D131","E147","D157","D163","E166","E168","E171","D176","E177","D179","E197","D209","E212","D214","D233","E240","D254","Y264","D273","E274","E281"], "range": [
"M-0.8,-0.8H0.8V0.8H-0.8Z",
"M-0.9,0A0.9,0.9,0,1,0,0.9,0A0.9,0.9,0,1,0,-0.9,0Z",
"M0,-1L1,0.75L-1,0.75Z",
"M0,1L1,-0.75L-1,-0.75Z",
"M0,-1.1L0.85,0L0,1.1L-0.85,0Z",
"M-1,0L0.75,-1L0.75,1Z",
"M1,0L-0.75,-1L-0.75,1Z",
"M0,-1L0.87,-0.5L0.87,0.5L0,1L-0.87,0.5L-0.87,-0.5Z",
"M0,-1.1L0.25,-0.34L1.05,-0.34L0.4,0.13L0.65,0.89L0,0.42L-0.65,0.89L-0.4,0.13L-1.05,-0.34L-0.25,-0.34Z",
"M0,-1L0.95,-0.31L0.59,0.81L-0.59,0.81L-0.95,-0.31Z",
"M-0.9,0A0.9,0.9,0,1,0,0.9,0A0.9,0.9,0,1,0,-0.9,0Z",
"M-1.2,0H1.2M0,-1.2V1.2",
"M-0.85,-0.85L0.85,0.85M-0.85,0.85L0.85,-0.85",
"M-1.1,0H1.1M-0.55,-0.95L0.55,0.95M-0.55,0.95L0.55,-0.95",
"M0,0",
"M-1.2,0H1.2M0,-1.2V1.2",
"M0,-1L1,0.75L-1,0.75Z",
"M-0.25,-0.25H0.25V0.25H-0.25Z",
"M-0.25,-0.25H0.25V0.25H-0.25Z",
"M-0.8,-0.8H0.8V0.8H-0.8Z",
"M-0.9,0A0.9,0.9,0,1,0,0.9,0A0.9,0.9,0,1,0,-0.9,0Z",
"M0,-1L1,0.75L-1,0.75Z",
"M0,1L1,-0.75L-1,-0.75Z",
"M0,-1.1L0.85,0L0,1.1L-0.85,0Z",
"M-1,0L0.75,-1L0.75,1Z",
"M1,0L-0.75,-1L-0.75,1Z",
"M-0.9,0A0.9,0.9,0,1,0,0.9,0A0.9,0.9,0,1,0,-0.9,0Z",
"M0,-1.1L0.25,-0.34L1.05,-0.34L0.4,0.13L0.65,0.89L0,0.42L-0.65,0.89L-0.4,0.13L-1.05,-0.34L-0.25,-0.34Z",
"M0,-1L0.95,-0.31L0.59,0.81L-0.59,0.81L-0.95,-0.31Z",
"M-0.9,0A0.9,0.9,0,1,0,0.9,0A0.9,0.9,0,1,0,-0.9,0Z",
"M-1.2,0H1.2M0,-1.2V1.2",
"M-0.85,-0.85L0.85,0.85M-0.85,0.85L0.85,-0.85",
"M-1.1,0H1.1M-0.55,-0.95L0.55,0.95M-0.55,0.95L0.55,-0.95",
"M0,0",
"M-0.7,0H0.7M0,-0.7V0.7",
"M-0.5,0H0.5M0,-0.5V0.5",
"M-0.5,0H0.5M-0.25,-0.43L0.25,0.43M-0.25,0.43L0.25,-0.43",
"M-0.25,-0.25H0.25V0.25H-0.25Z",
"M-0.8,-0.8H0.8V0.8H-0.8Z",
"M-0.9,0A0.9,0.9,0,1,0,0.9,0A0.9,0.9,0,1,0,-0.9,0Z"
]}}
}
},
{
"transform": [{"filter": "false"}],
"mark": {"type": "point", "opacity": 1, "strokeWidth": 1.8},
"encoding": {
"x": {"field": "x", "type": "quantitative", "axis": {"orient": "top", "values": [0,2,4,6,8,10,12,14], "tickSize": -12, "tickWidth": 2, "tickColor": "black", "domain": false, "grid": false, "labels": false, "title": null}},
"y": {"field": "y", "type": "quantitative", "axis": null},
"stroke": {"field": "m", "type": "nominal", "legend": {"title": " ", "orient": "none", "legendX": 592, "legendY": -45, "labelExpr": "join(split(datum.label, ''), ' ')"}, "scale": {"domain": ["E28","D35","E37","D38","Y46","E48","D50","E58","E63","E64","D85","E89","Y97","D101","E104","Y105","E110","D115","E121","D131","E147","D157","D163","E166","E168","E171","D176","E177","D179","E197","D209","E212","D214","D233","E240","D254","Y264","D273","E274","E281"], "range": ["#000000","#ff0000","#00ff00","#0000ff","#00ffff","#ff00ff","#808000","#808000","#000080","#800080","#800000","#008000","#008080","#000080","#ff8000","#8000ff","#ff0080","#c0c0c0","#c0c0c0","#808080","#404040","#80ffff","#ff80ff","#404040","#000000","#ff0000","#00ff00","#0000ff","#00ffff","#ff00ff","#008000","#808000","#000080","#800080","#800000","#008000","#008080","#0000a0","#ff8000","#8000ff"]}},
"fill": {"field": "m", "type": "nominal", "legend": {"title": " ", "orient": "none", "legendX": 592, "legendY": -45, "labelExpr": "join(split(datum.label, ''), ' ')"}, "scale": {"domain": ["E28","D35","E37","D38","Y46","E48","D50","E58","E63","E64","D85","E89","Y97","D101","E104","Y105","E110","D115","E121","D131","E147","D157","D163","E166","E168","E171","D176","E177","D179","E197","D209","E212","D214","D233","E240","D254","Y264","D273","E274","E281"], "range": ["#000000","#ff0000","#00ff00","#0000ff","#00ffff","#ff00ff","#808000","#808000","#000080","#800080","#800000","#008000","#008080","#000080","#ff8000","#8000ff","#ff0080","#c0c0c0","#c0c0c0","#ffffff","#ffffff","#ffffff","#ffffff","#ffffff","#ffffff","#ffffff","#ffffff","#ffffff","#ffffff","#ffffff","#008000","#808000","#000080","#800080","#800000","#008000","#008080","#0000a0","#ff8000","#8000ff"]}},
"shape": {"field": "m", "type": "nominal", "legend": {"title": " ", "orient": "none", "legendX": 592, "legendY": -45, "labelExpr": "join(split(datum.label, ''), ' ')"}, "scale": {"domain": ["E28","D35","E37","D38","Y46","E48","D50","E58","E63","E64","D85","E89","Y97","D101","E104","Y105","E110","D115","E121","D131","E147","D157","D163","E166","E168","E171","D176","E177","D179","E197","D209","E212","D214","D233","E240","D254","Y264","D273","E274","E281"], "range": [
"M-3.6,0H3.6M-0.8,-0.8H0.8V0.8H-0.8Z",
"M-3.6,0H3.6M-0.9,0A0.9,0.9,0,1,0,0.9,0A0.9,0.9,0,1,0,-0.9,0Z",
"M-3.6,0H3.6M0,-1L1,0.75L-1,0.75Z",
"M-3.6,0H3.6M0,1L1,-0.75L-1,-0.75Z",
"M-3.6,0H3.6M0,-1.1L0.85,0L0,1.1L-0.85,0Z",
"M-3.6,0H3.6M-1,0L0.75,-1L0.75,1Z",
"M-3.6,0H3.6M1,0L-0.75,-1L-0.75,1Z",
"M-3.6,0H3.6M0,-1L0.87,-0.5L0.87,0.5L0,1L-0.87,0.5L-0.87,-0.5Z",
"M-3.6,0H3.6M0,-1.1L0.25,-0.34L1.05,-0.34L0.4,0.13L0.65,0.89L0,0.42L-0.65,0.89L-0.4,0.13L-1.05,-0.34L-0.25,-0.34Z",
"M-3.6,0H3.6M0,-1L0.95,-0.31L0.59,0.81L-0.59,0.81L-0.95,-0.31Z",
"M-3.6,0H3.6M-0.9,0A0.9,0.9,0,1,0,0.9,0A0.9,0.9,0,1,0,-0.9,0Z",
"M-3.6,0H3.6M0,-1V1",
"M-3.6,0H3.6M-0.85,-0.85L0.85,0.85M-0.85,0.85L0.85,-0.85",
"M-3.6,0H3.6M-0.55,-0.95L0.55,0.95M-0.55,0.95L0.55,-0.95M0,-1.1V1.1",
"M-3.6,0H3.6",
"M-3.6,0H3.6M0,-1V1",
"M-3.6,0H3.6M0,-0.5V0.5",
"M-3.6,0H3.6M-0.25,-0.25H0.25V0.25H-0.25Z",
"M-3.6,0H3.6M-0.25,-0.25H0.25V0.25H-0.25Z",
"M-3.6,0H-0.8M0.8,0H3.6M-0.8,-0.8H0.8V0.8H-0.8Z",
"M-3.6,0H-0.9M0.9,0H3.6M-0.9,0A0.9,0.9,0,1,0,0.9,0A0.9,0.9,0,1,0,-0.9,0Z",
"M-3.6,0H-0.6M0.6,0H3.6M0,-1L1,0.75L-1,0.75Z",
"M-3.6,0H-0.6M0.6,0H3.6M0,1L1,-0.75L-1,-0.75Z",
"M-3.6,0H-0.85M0.85,0H3.6M0,-1.1L0.85,0L0,1.1L-0.85,0Z",
"M-3.6,0H-1M0.75,0H3.6M-1,0L0.75,-1L0.75,1Z",
"M-3.6,0H-0.75M1,0H3.6M1,0L-0.75,-1L-0.75,1Z",
"M-3.6,0H-0.9M0.9,0H3.6M-0.9,0A0.9,0.9,0,1,0,0.9,0A0.9,0.9,0,1,0,-0.9,0Z",
"M-3.6,0H-0.6M0.6,0H3.6M0,-1.1L0.25,-0.34L1.05,-0.34L0.4,0.13L0.65,0.89L0,0.42L-0.65,0.89L-0.4,0.13L-1.05,-0.34L-0.25,-0.34Z",
"M-3.6,0H-0.85M0.85,0H3.6M0,-1L0.95,-0.31L0.59,0.81L-0.59,0.81L-0.95,-0.31Z",
"M-3.6,0H-0.9M0.9,0H3.6M-0.9,0A0.9,0.9,0,1,0,0.9,0A0.9,0.9,0,1,0,-0.9,0Z",
"M-3.6,0H3.6M0,-1V1",
"M-3.6,0H3.6M-0.85,-0.85L0.85,0.85M-0.85,0.85L0.85,-0.85",
"M-3.6,0H3.6M-0.55,-0.95L0.55,0.95M-0.55,0.95L0.55,-0.95M0,-1.1V1.1",
"M-3.6,0H3.6",
"M-3.6,0H3.6M0,-0.6V0.6",
"M-3.6,0H3.6M0,-0.4V0.4",
"M-3.6,0H3.6M-0.3,-0.5L0.3,0.5M-0.3,0.5L0.3,-0.5",
"M-3.6,0H3.6M-0.25,-0.25H0.25V0.25H-0.25Z",
"M-3.6,0H3.6M-0.8,-0.8H0.8V0.8H-0.8Z",
"M-3.6,0H3.6M-0.9,0A0.9,0.9,0,1,0,0.9,0A0.9,0.9,0,1,0,-0.9,0Z"
]}}
}
},
{
"data": {"values": [{}]},
"mark": {"type": "text", "text": "\" E l e c t r o s t a t i c \u00a0 m u t a n t \" \u00a0 a n a l y s i s", "font": "Liberation Sans", "fontSize": 28, "align": "left", "baseline": "alphabetic", "color": "black"},
"encoding": {
"x": {"datum": 0.1, "type": "quantitative", "axis": {"orient": "top", "values": [1,3,5,7,9,11,13], "tickSize": -7, "tickWidth": 2, "tickColor": "black", "domain": false, "grid": false, "labels": false, "title": null}},
"y": {"datum": 6.51, "type": "quantitative", "axis": null}}
},
{
"data": {"values": [{}]},
"mark": {"type": "text", "text": "T E M - 1 \u00a0β - L A C T A M A S E \u00a0 \u00a0 -", "font": "Liberation Sans", "fontSize": 30, "align": "left", "baseline": "alphabetic", "color": "black"},
"encoding": {"x": {"datum": 1.69, "type": "quantitative", "axis": null}, "y": {"datum": 7.67, "type": "quantitative", "axis": null}}
},
{
"data": {"values": [{}]},
"mark": {"type": "text", "text": "E 8 9", "font": "Liberation Sans", "fontSize": 28, "fontWeight": "bold", "align": "center", "baseline": "alphabetic", "color": "black"},
"encoding": {"x": {"datum": 4.22, "type": "quantitative", "axis": null}, "y": {"datum": 4.91, "type": "quantitative", "axis": null}}
},
{
"data": {"values": [{}]},
"mark": {"type": "text", "text": "D 1 6 3", "font": "Liberation Sans", "fontSize": 28, "fontWeight": "bold", "align": "center", "baseline": "alphabetic", "color": "black"},
"encoding": {"x": {"datum": 5.36, "type": "quantitative", "axis": null}, "y": {"datum": 3.54, "type": "quantitative", "axis": null}}
},
{
"data": {"values": [{}]},
"mark": {"type": "text", "text": "E 3 7", "font": "Liberation Sans", "fontSize": 28, "fontWeight": "bold", "align": "center", "baseline": "alphabetic", "color": "black"},
"encoding": {"x": {"datum": 10.45, "type": "quantitative", "axis": null}, "y": {"datum": 3.34, "type": "quantitative", "axis": null}}
},
{
"data": {"values": [{}]},
"mark": {"type": "text", "text": "E 1 0 4", "font": "Liberation Sans", "fontSize": 28, "fontWeight": "bold", "align": "left", "baseline": "alphabetic", "color": "black"},
"encoding": {"x": {"datum": 4.93, "type": "quantitative", "axis": null}, "y": {"datum": -0.86, "type": "quantitative", "axis": null}}
},
{
"data": {"values": [{}]},
"mark": {"type": "text", "text": "E 2 4 0", "font": "Liberation Sans", "fontSize": 28, "fontWeight": "bold", "align": "center", "baseline": "alphabetic", "color": "black"},
"encoding": {"x": {"datum": 10.93, "type": "quantitative", "axis": null}, "y": {"datum": -1.84, "type": "quantitative", "axis": null}}
},
{
"data": {"values": [{}]},
"mark": {"type": "text", "text": "Z e r o e d \u00a0 n e g a t i v e \u00a0 c h a r g e s", "font": "Liberation Sans", "fontSize": 29, "fontWeight": "bold", "align": "center", "baseline": "alphabetic", "color": "black"},
"encoding": {"x": {"datum": 6.42, "type": "quantitative", "axis": null}, "y": {"datum": -2.52, "type": "quantitative", "axis": null}}
},
{
"data": {"values": [{}]},
"mark": {"type": "text", "text": "δ Δ G", "font": "Liberation Sans", "fontSize": 38, "fontWeight": "bold", "angle": 270, "align": "left", "baseline": "alphabetic", "color": "black"},
"encoding": {"x": {"datum": -2.03, "type": "quantitative", "axis": null}, "y": {"datum": -0.9, "type": "quantitative", "axis": null}}
},
{
"data": {"values": [{}]},
"mark": {"type": "text", "text": "e l", "font": "Liberation Sans", "fontSize": 18, "fontWeight": "bold", "angle": 270, "align": "left", "baseline": "alphabetic", "color": "black"},
"encoding": {"x": {"datum": -1.98, "type": "quantitative", "axis": null}, "y": {"datum": 0.95, "type": "quantitative", "axis": null}}
},
{
"data": {"values": [{}]},
"mark": {"type": "text", "text": "( \u00a0k \u00a0c \u00a0a \u00a0l \u00a0/ \u00a0m \u00a0o \u00a0l \u00a0)", "font": "Liberation Sans", "fontSize": 36, "angle": 270, "align": "left", "baseline": "alphabetic", "color": "black"},
"encoding": {"x": {"datum": -2.03, "type": "quantitative", "axis": null}, "y": {"datum": 1.45, "type": "quantitative", "axis": null}}
}
],
"config": {
"view": {"stroke": "black", "strokeWidth": 2},
"legend": {"padding": 6, "strokeColor": "black", "strokeWidth": 1.5, "fillColor": "white", "labelFont": "Liberation Sans", "labelFontSize": 14, "labelColor": "black", "labelOffset": 15, "symbolOffset": 15.5, "symbolSize": 81, "symbolStrokeWidth": 1.8, "rowPadding": 2.1, "titleFontSize": 8, "titlePadding": 8, "symbolLimit": 60, "columns": 1}
}
}
